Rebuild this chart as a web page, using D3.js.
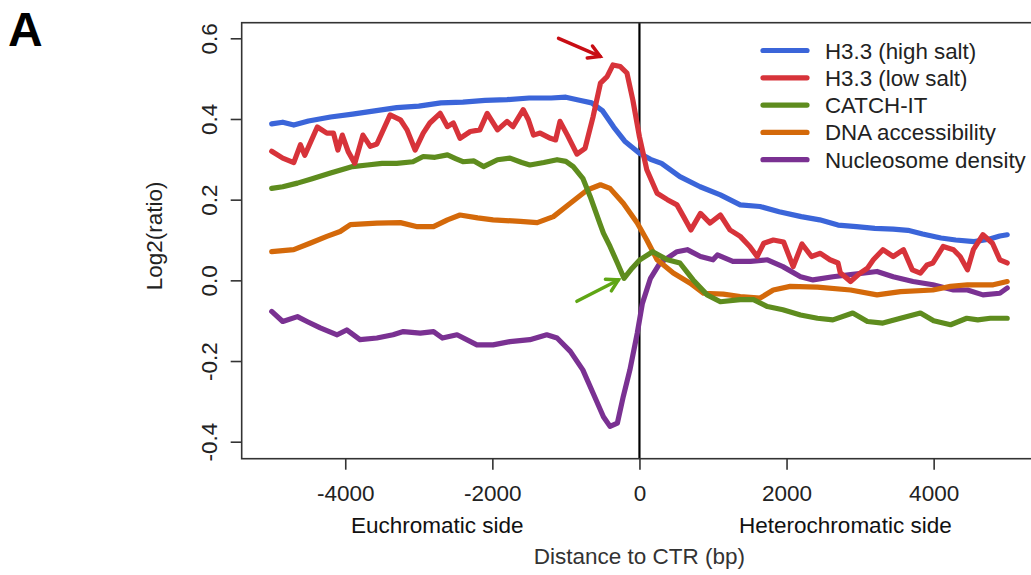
<!DOCTYPE html>
<html>
<head>
<meta charset="utf-8">
<script src="https://cdn.jsdelivr.net/npm/d3@7"></script>
<style>
  body { margin: 0; background: #fff; }
  svg { display: block; font-family: "Liberation Sans", Arial, sans-serif; }
</style>
</head>
<body>
<div id="root"></div>
<script>
// values: [distance to CTR (bp), log2 ratio]
const highSalt = [[-5000,0.388],[-4850,0.392],[-4700,0.385],[-4500,0.395],[-4200,0.405],[-3900,0.412],[-3600,0.42],[-3300,0.428],[-3000,0.432],[-2700,0.44],[-2400,0.442],[-2100,0.446],[-1800,0.448],[-1500,0.452],[-1200,0.452],[-1000,0.454],[-800,0.446],[-650,0.44],[-500,0.42],[-350,0.38],[-200,0.345],[0,0.315],[150,0.3],[300,0.29],[550,0.257],[825,0.232],[1100,0.212],[1370,0.187],[1640,0.183],[1900,0.17],[2200,0.158],[2450,0.15],[2700,0.137],[2950,0.133],[3200,0.129],[3450,0.127],[3650,0.124],[3850,0.115],[4100,0.105],[4300,0.1],[4550,0.096],[4750,0.102],[4900,0.11],[5000,0.113]];

const lowSalt = [[-5000,0.32],[-4850,0.303],[-4700,0.292],[-4610,0.336],[-4550,0.31],[-4380,0.38],[-4250,0.365],[-4160,0.365],[-4100,0.323],[-4040,0.36],[-3960,0.319],[-3870,0.29],[-3760,0.36],[-3660,0.332],[-3570,0.338],[-3390,0.41],[-3250,0.398],[-3160,0.373],[-3050,0.323],[-2940,0.365],[-2850,0.39],[-2710,0.414],[-2610,0.381],[-2530,0.39],[-2440,0.352],[-2300,0.369],[-2170,0.373],[-2070,0.414],[-1930,0.373],[-1800,0.394],[-1720,0.381],[-1580,0.423],[-1510,0.398],[-1440,0.36],[-1350,0.365],[-1210,0.352],[-1140,0.348],[-1080,0.394],[-980,0.36],[-850,0.313],[-740,0.327],[-630,0.406],[-530,0.489],[-440,0.505],[-360,0.534],[-260,0.53],[-170,0.514],[-90,0.447],[0,0.356],[100,0.274],[240,0.216],[380,0.2],[510,0.187],[600,0.158],[700,0.125],[830,0.166],[960,0.142],[1100,0.162],[1230,0.125],[1370,0.109],[1500,0.084],[1600,0.059],[1690,0.092],[1820,0.1],[1960,0.095],[2090,0.034],[2210,0.09],[2340,0.059],[2460,0.067],[2590,0.051],[2700,0.043],[2730,0.019],[2870,-0.003],[3000,0.018],[3100,0.03],[3180,0.051],[3310,0.076],[3450,0.059],[3590,0.076],[3710,0.026],[3820,0.018],[3910,0.038],[3990,0.043],[4130,0.084],[4270,0.076],[4360,0.059],[4460,0.026],[4540,0.076],[4670,0.113],[4800,0.092],[4900,0.051],[5000,0.043]];

const catchIt = [[-5000,0.228],[-4850,0.232],[-4650,0.241],[-4450,0.252],[-4200,0.266],[-3900,0.282],[-3700,0.286],[-3500,0.29],[-3300,0.29],[-3080,0.294],[-2940,0.307],[-2780,0.305],[-2610,0.311],[-2500,0.302],[-2400,0.294],[-2250,0.296],[-2120,0.282],[-1930,0.299],[-1760,0.303],[-1600,0.292],[-1490,0.286],[-1300,0.292],[-1120,0.299],[-1000,0.295],[-900,0.282],[-770,0.253],[-670,0.208],[-540,0.142],[-490,0.117],[-400,0.084],[-300,0.043],[-210,0.005],[-100,0.03],[0,0.05],[180,0.071],[380,0.051],[550,0.043],[730,0.001],[920,-0.036],[1100,-0.053],[1370,-0.048],[1550,-0.048],[1740,-0.065],[1950,-0.073],[2190,-0.086],[2420,-0.094],[2630,-0.098],[2900,-0.081],[3100,-0.102],[3310,-0.106],[3550,-0.094],[3820,-0.081],[4000,-0.1],[4230,-0.11],[4450,-0.094],[4600,-0.098],[4770,-0.094],[5000,-0.094]];

const dnaAccess = [[-5000,0.071],[-4700,0.076],[-4480,0.092],[-4250,0.109],[-4070,0.121],[-3930,0.138],[-3570,0.142],[-3250,0.143],[-3020,0.133],[-2800,0.133],[-2610,0.15],[-2440,0.162],[-2200,0.155],[-1990,0.15],[-1620,0.146],[-1390,0.143],[-1170,0.158],[-940,0.191],[-710,0.224],[-530,0.237],[-400,0.228],[-220,0.191],[-30,0.142],[100,0.1],[240,0.051],[460,0.018],[690,-0.007],[870,-0.032],[1140,-0.034],[1370,-0.04],[1640,-0.044],[1820,-0.024],[2050,-0.015],[2420,-0.017],[2870,-0.024],[3230,-0.036],[3550,-0.028],[3990,-0.024],[4230,-0.015],[4460,-0.011],[4810,-0.011],[5000,-0.003]];

const nucDensity = [[-5000,-0.077],[-4850,-0.102],[-4650,-0.09],[-4520,-0.102],[-4340,-0.118],[-4110,-0.135],[-3980,-0.123],[-3800,-0.147],[-3570,-0.143],[-3350,-0.135],[-3210,-0.127],[-2980,-0.131],[-2800,-0.127],[-2680,-0.143],[-2480,-0.135],[-2210,-0.16],[-1990,-0.16],[-1760,-0.152],[-1490,-0.147],[-1260,-0.135],[-1120,-0.143],[-940,-0.176],[-770,-0.222],[-630,-0.28],[-490,-0.338],[-400,-0.362],[-300,-0.354],[-220,-0.288],[-130,-0.222],[-30,-0.131],[40,-0.057],[150,0.005],[280,0.043],[510,0.071],[650,0.076],[830,0.059],[1000,0.051],[1060,0.063],[1270,0.047],[1510,0.047],[1740,0.051],[1950,0.034],[2190,0.009],[2360,0.001],[2630,0.009],[2870,0.014],[3230,0.022],[3450,0.009],[3720,-0.003],[3990,-0.011],[4270,-0.024],[4460,-0.024],[4670,-0.036],[4900,-0.032],[5000,-0.019]];

const seriesNames = ["H3.3 (high salt)", "H3.3 (low salt)", "CATCH-IT", "DNA accessibility", "Nucleosome density"];
const seriesColors = ["#3b65d9", "#d7333a", "#5e8c1e", "#d4690a", "#7a3192"];
const seriesData = [highSalt, lowSalt, catchIt, dnaAccess, nucDensity];
const drawOrder = [4, 3, 2, 0, 1];

const xTicks = [-4000, -2000, 0, 2000, 4000];
const yTicks = [-0.4, -0.2, 0.0, 0.2, 0.4, 0.6];

// annotation arrows [from, to] in data units
const redArrow = [[-1100, 0.600], [-534, 0.555]];
const greenArrow = [[-851, -0.052], [-286, 0.001]];

const svg = d3.select("#root")
  .append("svg")
  .attr("width", 1031)
  .attr("height", 575);

svg.append("rect").attr("width", 1031).attr("height", 575).attr("fill", "#fff");

const x = d3.scaleLinear().domain([-5000, 5000]).range([271.7, 1007.2]);
const y = d3.scaleLinear().domain([-0.4, 0.6]).range([441.7, 38.3]);

const boxLeft = x(-5408), boxRight = x(5408);
const boxTop = 22.7, boxBottom = 458.7;

// vertical line at CTR
svg.append("line")
  .attr("x1", x(0)).attr("x2", x(0))
  .attr("y1", boxTop).attr("y2", boxBottom)
  .attr("stroke", "#000")
  .attr("stroke-width", 2.2);

const line = d3.line()
  .x(function(d) { return x(d[0]); })
  .y(function(d) { return y(d[1]); });

drawOrder.forEach(function(i) {
  svg.append("path")
    .datum(seriesData[i])
    .attr("fill", "none")
    .attr("stroke", seriesColors[i])
    .attr("stroke-width", 5.2)
    .attr("stroke-linejoin", "round")
    .attr("stroke-linecap", "round")
    .attr("d", line);
});

// box
svg.append("rect")
  .attr("x", boxLeft).attr("y", boxTop)
  .attr("width", boxRight - boxLeft)
  .attr("height", boxBottom - boxTop)
  .attr("fill", "none")
  .attr("stroke", "#333")
  .attr("stroke-width", 1.6);

// axes
const gx = svg.append("g")
  .attr("transform", "translate(0," + boxBottom + ")")
  .call(d3.axisBottom(x).tickValues(xTicks).tickSize(11).tickPadding(15)
    .tickFormat(function(d) { return String(d); }));
gx.select(".domain").remove();
gx.selectAll(".tick line").attr("stroke", "#333").attr("stroke-width", 1.6);
gx.selectAll(".tick text")
  .attr("font-size", 22.5)
  .attr("font-family", "Liberation Sans, Arial, sans-serif")
  .attr("fill", "#222");

const gy = svg.append("g")
  .attr("transform", "translate(" + boxLeft + ",0)")
  .call(d3.axisLeft(y).tickValues(yTicks).tickSize(11)
    .tickFormat(function(d) { return d.toFixed(1); }));
gy.select(".domain").remove();
gy.selectAll(".tick line").attr("stroke", "#333").attr("stroke-width", 1.6);
gy.selectAll(".tick text")
  .attr("transform", "rotate(-90)")
  .attr("x", 0)
  .attr("y", -25)
  .attr("dy", 0)
  .attr("text-anchor", "middle")
  .attr("font-size", 22.5)
  .attr("font-family", "Liberation Sans, Arial, sans-serif")
  .attr("fill", "#222");

// axis titles
svg.append("text")
  .attr("transform", "translate(162," + y(0.11) + ") rotate(-90)")
  .attr("text-anchor", "middle")
  .attr("font-size", 22.5)
  .attr("fill", "#222")
  .text("Log2(ratio)");

svg.append("text")
  .attr("x", x(-2750)).attr("y", 533)
  .attr("text-anchor", "middle")
  .attr("font-size", 22.5)
  .attr("fill", "#111")
  .text("Euchromatic side");

svg.append("text")
  .attr("x", x(2800)).attr("y", 533)
  .attr("text-anchor", "middle")
  .attr("font-size", 22.5)
  .attr("fill", "#111")
  .text("Heterochromatic side");

svg.append("text")
  .attr("x", x(0)).attr("y", 564)
  .attr("text-anchor", "middle")
  .attr("font-size", 22.5)
  .attr("fill", "#333")
  .text("Distance to CTR (bp)");

// panel letter
svg.append("text")
  .attr("x", 8).attr("y", 46)
  .attr("font-size", 48)
  .attr("font-weight", "bold")
  .attr("fill", "#000")
  .text("A");

// arrows
function arrow(pts, color) {
  const x0 = x(pts[0][0]), y0 = y(pts[0][1]);
  const x1 = x(pts[1][0]), y1 = y(pts[1][1]);
  const ang = Math.atan2(y1 - y0, x1 - x0);
  const len = 13, spread = Math.PI / 6;
  const g = svg.append("g")
    .attr("stroke", color)
    .attr("stroke-width", 3.5)
    .attr("stroke-linecap", "round")
    .attr("fill", "none");
  g.append("line").attr("x1", x0).attr("y1", y0).attr("x2", x1).attr("y2", y1);
  g.append("polyline").attr("points", [
    [x1 - len * Math.cos(ang - spread), y1 - len * Math.sin(ang - spread)],
    [x1, y1],
    [x1 - len * Math.cos(ang + spread), y1 - len * Math.sin(ang + spread)]
  ].map(function(p) { return p.join(","); }).join(" "));
}
arrow(redArrow, "#c80d14");
arrow(greenArrow, "#5fa614");

// legend
const legend = svg.append("g");
seriesNames.forEach(function(name, i) {
  const ly = 50.5 + i * 27.3;
  legend.append("line")
    .attr("x1", 763).attr("x2", 807)
    .attr("y1", ly).attr("y2", ly)
    .attr("stroke", seriesColors[i])
    .attr("stroke-width", 5.2)
    .attr("stroke-linecap", "round");
  legend.append("text")
    .attr("x", 825).attr("y", ly)
    .attr("dy", "0.36em")
    .attr("font-size", 22.3)
    .attr("fill", "#222")
    .text(name);
});
</script>
</body>
</html>
